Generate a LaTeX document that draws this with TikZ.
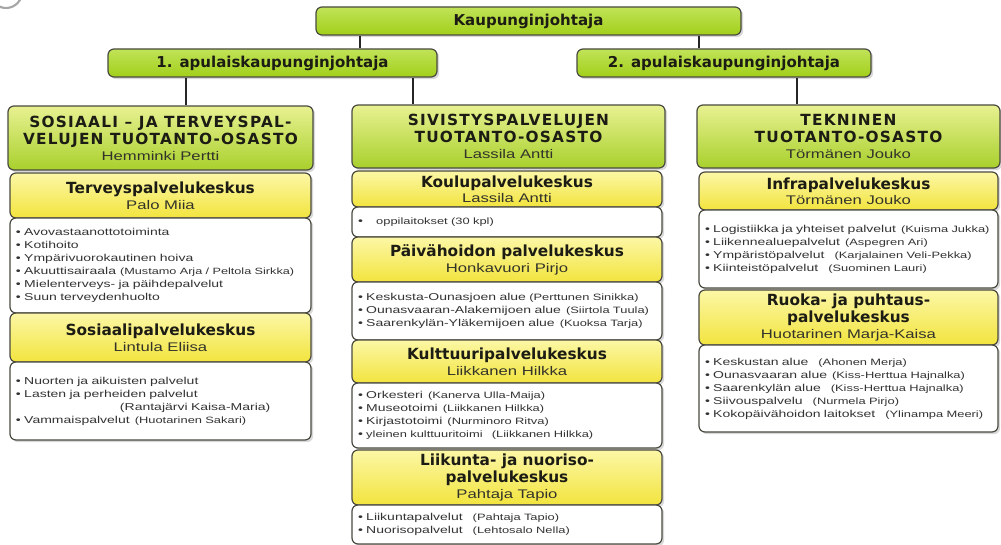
\documentclass[tikz,border=0pt]{standalone}
\usepackage{fontspec}
\setmainfont{Liberation Sans}
\newfontfamily\titlef{DejaVu Sans}
\newfontfamily\capsf[LetterSpace=8]{DejaVu Sans}
\newfontfamily\namef[FakeStretch=1.33]{Liberation Sans}
\newfontfamily\listf[FakeStretch=1.4]{Liberation Sans}
\usetikzlibrary{shadows}
\definecolor{topg}{HTML}{A2CF1A}
\definecolor{topgl}{HTML}{C0E358}
\definecolor{depg}{HTML}{A8D02C}
\definecolor{depgl}{HTML}{E8F191}
\definecolor{yel}{HTML}{F2E43E}
\definecolor{yell}{HTML}{FCF7A6}
\definecolor{edge}{HTML}{4A4A40}
\definecolor{txt}{HTML}{1C1C14}
\definecolor{nametxt}{HTML}{33332A}
\definecolor{listtxt}{HTML}{333333}
\newcommand\pn[1]{{\fontsize{6.9pt}{9.75pt}\selectfont #1}}
\newcommand\nm[1]{{\namef\mdseries\fontsize{9.4pt}{11pt}\selectfont\color{nametxt}#1}}
\begin{document}
\begin{tikzpicture}[x=0.75pt,y=-0.75pt,
  sz/.style 2 args={minimum width=#1*0.75pt, minimum height=#2*0.75pt},
  base/.style={rounded corners=4.5pt, draw=edge, line width=0.9pt, inner sep=0pt,
    drop shadow={opacity=0.3, shadow xshift=1.6pt, shadow yshift=-1.6pt}},
  topbox/.style={base, top color=topgl, bottom color=topg, text=txt,
    font=\titlef\bfseries\fontsize{11.25pt}{13pt}\selectfont},
  depbox/.style={base, top color=depgl, bottom color=depg, text=txt, align=center,
    font=\capsf\bfseries\fontsize{11.5pt}{12.8pt}\selectfont},
  ybox/.style={base, top color=yell, bottom color=yel, text=txt, align=center,
    font=\titlef\bfseries\fontsize{11.5pt}{13pt}\selectfont},
  wbox/.style={base, fill=white, text=listtxt, align=left, inner xsep=4.5pt,
    font=\listf\fontsize{7.5pt}{9.75pt}\selectfont},
  conn/.style={draw=black!85, line width=1.3pt}]
\useasboundingbox (0,0) rectangle (1001,545);
% faint logo fragment
\draw[black!35, line width=1.6pt] (6,-8) ++(20:16) arc[start angle=20, end angle=150, radius=16];

% top level
\node[topbox, sz={425}{28}] (kj) at (528.5,21) {Kaupunginjohtaja};
\node[topbox, sz={329}{28}] (ap1) at (272.5,63) {1. apulaiskaupunginjohtaja};
\node[topbox, sz={294}{28}] (ap2) at (724,63) {2. apulaiskaupunginjohtaja};

% left column
\node[depbox, sz={305}{64}] (sos) at (160.5,138) {SOSIAALI – JA TERVEYSPAL-\\VELUJEN TUOTANTO-OSASTO\\[-1pt]\nm{Hemminki Pertti}};
\node[ybox, sz={301}{45}] (ter) at (160.5,195.5) {Terveyspalvelukeskus\\[-1pt]\nm{Palo Miia}};
\node[wbox, sz={301}{95}, text width=216.75pt] (terL) at (160.5,265.5) {%
• Avovastaanottotoiminta\\
• Kotihoito\\
• Ympärivuorokautinen hoiva\\
\mbox{• Akuuttisairaala\hspace{3pt}{\fontsize{6.8pt}{9.75pt}\selectfont(Mustamo Arja / Peltola Sirkka)}}\\
• Mielenterveys- ja päihdepalvelut\\
• Suun terveydenhuolto};
\node[ybox, sz={301}{49}] (sosP) at (160.5,337.5) {Sosiaalipalvelukeskus\\[-1pt]\nm{Lintula Eliisa}};
\node[wbox, sz={301}{78}, text width=216.75pt] (sosL) at (160.5,401) {%
• Nuorten ja aikuisten palvelut\\
• Lasten ja perheiden palvelut\\
\hspace*{78pt}(Rantajärvi Kaisa-Maria)\\
• Vammaispalvelut\enspace \pn{(Huotarinen Sakari)}};

% middle column
\node[depbox, sz={313}{63}] (siv) at (508.5,136.5) {SIVISTYSPALVELUJEN\\TUOTANTO-OSASTO\\[-1pt]\nm{Lassila Antti}};
\node[ybox, sz={310}{36}] (kou) at (507,189) {Koulupalvelukeskus\\[-2pt]\nm{Lassila Antti}};
\node[wbox, sz={310}{30}, text width=223.5pt] (kouL) at (507,222) {•\hspace{10pt}\pn{oppilaitokset (30 kpl)}};
\node[ybox, sz={310}{45}] (pai) at (507,259.5) {Päivähoidon palvelukeskus\\[-1pt]\nm{Honkavuori Pirjo}};
\node[wbox, sz={310}{58}, text width=223.5pt] (paiL) at (507,311) {%
• Keskusta-Ounasjoen alue \pn{(Perttunen Sinikka)}\\
• Ounasvaaran-Alakemijoen alue\enspace \pn{(Siirtola Tuula)}\\
• Saarenkylän-Yläkemijoen alue\enspace \pn{(Kuoksa Tarja)}};
\node[ybox, sz={310}{43}] (kul) at (507,361.5) {Kulttuuripalvelukeskus\\[-1pt]\nm{Liikkanen Hilkka}};
\node[wbox, sz={310}{65}, text width=223.5pt] (kulL) at (507,415.5) {%
• Orkesteri\enspace \pn{(Kanerva Ulla-Maija)}\\
• Museotoimi\enspace \pn{(Liikkanen Hilkka)}\\
• Kirjastotoimi\enspace \pn{(Nurminoro Ritva)}\\
• \pn{yleinen kulttuuritoimi\quad (Liikkanen Hilkka)}};
\node[ybox, sz={310}{55}] (lii) at (507,477.5) {Liikunta- ja nuoriso-\\palvelukeskus\\[-1pt]\nm{Pahtaja Tapio}};
\node[wbox, sz={310}{39}, text width=223.5pt] (liiL) at (507,524.5) {%
• Liikuntapalvelut\quad \pn{(Pahtaja Tapio)}\\
• Nuorisopalvelut\quad \pn{(Lehtosalo Nella)}};

% right column
\node[depbox, sz={303}{63}] (tek) at (848.5,136.5) {TEKNINEN\\TUOTANTO-OSASTO\\[-1pt]\nm{Törmänen Jouko}};
\node[ybox, sz={299}{38}] (inf) at (848.5,191) {Infrapalvelukeskus\\[-2pt]\nm{Törmänen Jouko}};
\node[wbox, sz={299}{78}, text width=215.25pt] (infL) at (848.5,249) {%
• Logistiikka ja yhteiset palvelut\enspace \pn{(Kuisma Jukka)}\\
• Liikennealuepalvelut\enspace \pn{(Aspegren Ari)}\\
• Ympäristöpalvelut\quad \pn{(Karjalainen Veli-Pekka)}\\
• Kiinteistöpalvelut\quad \pn{(Suominen Lauri)}};
\node[ybox, sz={299}{55}] (ruo) at (848.5,317.5) {Ruoka- ja puhtaus-\\palvelukeskus\\[-1pt]\nm{Huotarinen Marja-Kaisa}};
\node[wbox, sz={299}{87}, text width=215.25pt] (ruoL) at (848.5,388.5) {%
• Keskustan alue\quad \pn{(Ahonen Merja)}\\
• Ounasvaaran alue\enspace \pn{(Kiss-Herttua Hajnalka)}\\
• Saarenkylän alue\quad \pn{(Kiss-Herttua Hajnalka)}\\
• Siivouspalvelu\quad \pn{(Nurmela Pirjo)}\\
• Kokopäivähoidon laitokset\quad \pn{(Ylinampa Meeri)}};

% connectors
\coordinate (c1) at (360,0);
\coordinate (c2) at (699,0);
\coordinate (c3) at (186,0);
\coordinate (c4) at (413,0);
\coordinate (c5) at (797,0);
\draw[conn] (kj.south -| c1) -- (ap1.north -| c1);
\draw[conn] (kj.south -| c2) -- (ap2.north -| c2);
\draw[conn] (ap1.south -| c3) -- (sos.north -| c3);
\draw[conn] (ap1.south -| c4) -- (siv.north -| c4);
\draw[conn] (ap2.south -| c5) -- (tek.north -| c5);
\end{tikzpicture}
\end{document}
